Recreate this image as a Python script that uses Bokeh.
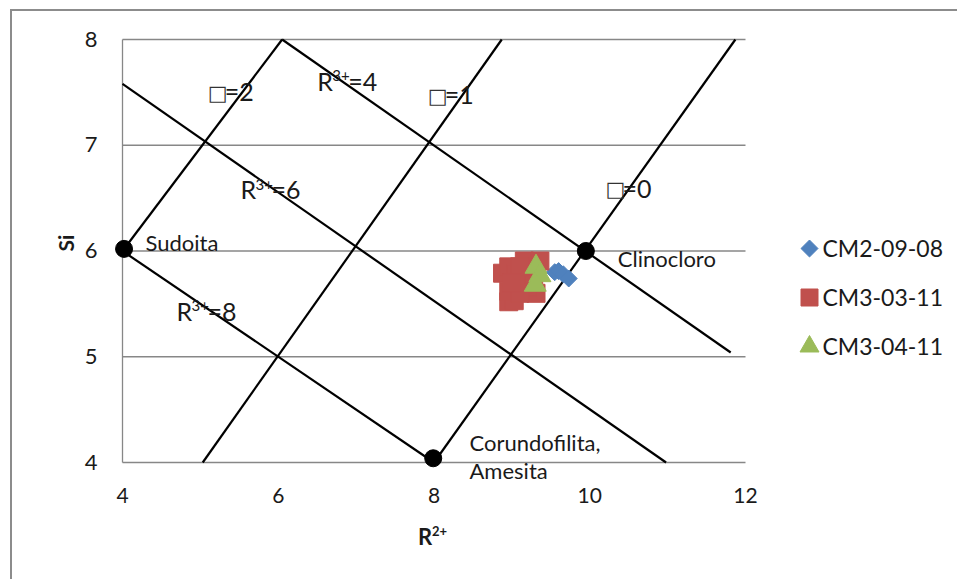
import math
from bokeh.plotting import figure
from bokeh.models import Range1d, Label
from bokeh.embed import file_html
from bokeh.resources import INLINE

FONT = "Lato"

# ---- axes ----
x_ticks = [4, 6, 8, 10, 12]
y_ticks = [4, 5, 6, 7, 8]
x_title = ("R", "2+")
y_title = "Si"

# ---- reference lines of the diagram (R2+, Si end points) ----
line_x = [[4.0, 6.05], [5.03, 8.87], [8.0, 11.87], [6.05, 11.81], [4.0, 10.98], [4.0, 8.0]]
line_y = [[6.0, 8.0], [4.0, 8.0], [4.0, 8.0], [8.0, 5.04], [7.58, 4.0], [6.0, 4.0]]

# ---- end members ----
em_names = ["Sudoita", "Clinocloro", "Corundofilita,", "Amesita"]
em_x = [4.02, 9.95, 7.99]
em_y = [6.02, 6.00, 4.04]
em_label_x = [4.295, 10.36, 8.456, 8.456]
em_label_y = [5.998, 5.853, 4.113, 3.846]

# ---- line labels: (base, superscript, rest) ----
lab_base = ["□", "R", "□", "R", "□", "R"]
lab_sup = ["", "3+", "", "3+", "", "3+"]
lab_rest = ["=2", "=4", "=1", "=6", "=0", "=8"]
lab_x = [5.108, 6.50, 7.933, 5.515, 10.215, 4.693]
lab_y = [7.423, 7.518, 7.392, 6.494, 6.509, 5.343]

# ---- samples ----
cm2_x = [9.55, 9.60, 9.66, 9.73]
cm2_y = [5.80, 5.81, 5.78, 5.74]

cm303_x = [8.88, 8.96, 9.16, 9.36, 8.96, 9.03, 9.31, 9.17, 9.24, 8.96,
           9.20, 9.28, 9.10, 9.05, 9.10, 9.00]
cm303_y = [5.79, 5.85, 5.905, 5.905, 5.52, 5.53, 5.60, 5.72, 5.82, 5.62,
           5.66, 5.72, 5.60, 5.78, 5.85, 5.70]

cm304_x = [9.31, 9.36, 9.30]
cm304_y = [5.85, 5.77, 5.68]

series_names = ["CM2-09-08", "CM3-03-11", "CM3-04-11"]
series_colors = ["#4F81BD", "#C0504D", "#9BBB59"]

GRID = "#878787"
TXT = "#1a1a1a"

# ---- layout geometry (pixels, relative to the canvas) ----
W, H = 947, 570
PX_LEFT, PX_TOP = 110, 28          # canvas position of (4, 8)
PLOT_W, PLOT_H = 623, 423          # pixel size of the 4..12 x 4..8 window
sx_unit = (x_ticks[-1] - x_ticks[0]) / PLOT_W
sy_unit = (y_ticks[-1] - y_ticks[0]) / PLOT_H
x_start = x_ticks[0] - PX_LEFT * sx_unit
x_end = x_start + W * sx_unit
y_end = y_ticks[-1] + PX_TOP * sy_unit
y_start = y_end - H * sy_unit


def px2x(px):
    return x_start + px * sx_unit


def px2y(py):
    return y_end - py * sy_unit


p = figure(width=W, height=H,
           x_range=Range1d(x_start, x_end), y_range=Range1d(y_start, y_end),
           output_backend="svg", toolbar_location=None,
           min_border_left=0, min_border_right=0,
           min_border_top=0, min_border_bottom=0)
p.margin = (9, 0, 0, 10)
p.styles = {"border-top": "2px solid #8c8c8c", "border-left": "2px solid #8c8c8c"}
p.outline_line_color = None
p.background_fill_color = "white"
p.border_fill_color = "white"
p.xaxis.visible = False
p.yaxis.visible = False
p.xgrid.visible = False
p.ygrid.visible = False


def lab(x, y, text, size, dx=0, dy=0, align="left", font=FONT, style="normal",
        color=TXT, angle=0.0):
    # alphabetic baseline; the renderer places it ~0.38em low, so compensate
    p.add_layout(Label(x=x, y=y, text=text, text_font=font, text_font_size=f"{size}px",
                       text_font_style=style, text_color=color,
                       text_baseline="alphabetic", text_align=align,
                       x_offset=dx, y_offset=dy + 0.38 * size, angle=angle))


# horizontal grid lines and the value axis line
p.segment(x0=x_ticks[0], x1=x_ticks[-1], y0=y_ticks, y1=y_ticks,
          line_color=GRID, line_width=1.3)
p.segment(x0=x_ticks[0], x1=x_ticks[0], y0=y_ticks[0], y1=y_ticks[-1],
          line_color=GRID, line_width=1.3)

# tick labels
for t in x_ticks:
    lab(t, y_ticks[0], str(t), 21, dy=-41, align="center")
for t in y_ticks:
    lab(x_ticks[0], t, str(t), 22, dx=-25, dy=-8, align="right")

# axis titles
lab(px2x(61), (y_ticks[0] + y_ticks[-1]) / 2, y_title, 21, style="bold",
    align="center", angle=math.pi / 2, dx=-8)
x_mid = (x_ticks[0] + x_ticks[-1]) / 2
lab(x_mid, y_ticks[0], x_title[0], 22, dx=-16, dy=-82, style="bold")
lab(x_mid, y_ticks[0], x_title[1], 13, dx=-2, dy=-73, style="bold")

# reference lines
p.multi_line(xs=line_x, ys=line_y, line_color="black", line_width=2.2)

# samples
p.scatter(cm2_x, cm2_y, marker="square", angle=math.pi / 4, size=12,
          fill_color=series_colors[0], line_color=series_colors[0])
p.scatter(cm303_x, cm303_y, marker="square", size=18,
          fill_color=series_colors[1], line_color=series_colors[1])
p.scatter(cm304_x, cm304_y, marker="triangle", size=22,
          fill_color=series_colors[2], line_color=series_colors[2])

# end members
p.scatter(em_x, em_y, size=17, fill_color="black", line_color="black")

for t, x, y in zip(em_names, em_label_x, em_label_y):
    lab(x, y, t, 22)

for b, s, r, x, y in zip(lab_base, lab_sup, lab_rest, lab_x, lab_y):
    if b == "□":
        lab(x, y, b, 21, font="DejaVu Sans", color="#333333", dx=-1, dy=0)
        off = 16
    else:
        lab(x, y, b, 25)
        off = 31
    if s:
        lab(x, y, s, 15, dx=15, dy=9)
    lab(x, y, r, 25, dx=off)

# legend (swatches + labels), laid out in pixels on the right
leg_px_x = 809
leg_px_y = [248, 297, 346]
leg_markers = [("square", math.pi / 4, 12), ("square", 0.0, 17), ("triangle", 0.0, 19)]
for name, col, py, (mk, ang, sz) in zip(series_names, series_colors, leg_px_y, leg_markers):
    p.scatter([px2x(leg_px_x - 12)], [px2y(py - 11)], marker=mk, angle=ang, size=sz,
              fill_color=col, line_color=col)
    lab(px2x(leg_px_x - 12 + 13), px2y(py - 11), name, 23, dy=-8)

open("out.html", "w").write(file_html(p, INLINE))
